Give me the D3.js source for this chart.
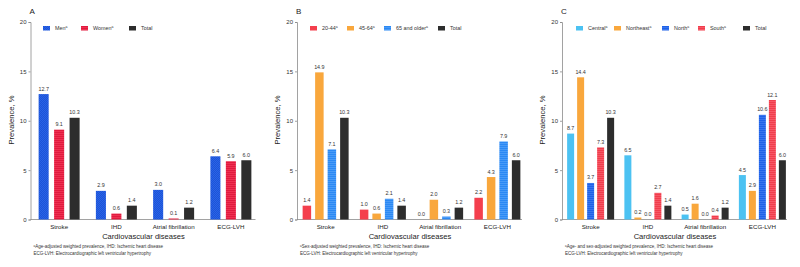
<!DOCTYPE html>
<html><head><meta charset="utf-8">
<script src="https://cdn.jsdelivr.net/npm/d3@7"></script>
<style>body{margin:0;background:#fff}svg{display:block}text{font-family:"Liberation Sans",Arial,sans-serif}</style>
</head><body>
<svg id="c" width="800" height="267"></svg>
<script>
const categories = ["Stroke", "IHD", "Atrial fibrillation", "ECG-LVH"];
const totalValues = [10.3, 1.4, 1.2, 6.0];

const sexSeries = ["Men", "Women", "Total"];
const menValues = [12.7, 2.9, 3.0, 6.4];
const womenValues = [9.1, 0.6, 0.1, 5.9];

const ageSeries = ["20-44", "45-64", "65 and older", "Total"];
const age2044Values = [1.4, 1.0, 0.0, 2.2];
const age4564Values = [14.9, 0.6, 2.0, 4.3];
const age65Values = [7.1, 2.1, 0.3, 7.9];

const regionSeries = ["Central", "Northeast", "North", "South", "Total"];
const centralValues = [8.7, 6.5, 0.5, 4.5];
const northeastValues = [14.4, 0.2, 1.6, 2.9];
const northValues = [3.7, 0.0, 0.0, 10.6];
const southValues = [7.3, 2.7, 0.4, 12.1];

const yTicks = [0, 5, 10, 15, 20];

const svg = d3.select("#c");
const defs = svg.append("defs");

function makePattern(id, base, line, kind) {
  const p = defs.append("pattern").attr("id", id).attr("patternUnits", "userSpaceOnUse")
    .attr("width", 2).attr("height", 2);
  p.append("rect").attr("width", 2).attr("height", 2).attr("fill", base);
  if (kind === "h") p.append("rect").attr("y", 1).attr("width", 2).attr("height", 1).attr("fill", line);
  if (kind === "x") { p.append("rect").attr("width", 1).attr("height", 1).attr("fill", line);
                      p.append("rect").attr("x", 1).attr("y", 1).attr("width", 1).attr("height", 1).attr("fill", line); }
  return "url(#" + id + ")";
}

const panels = [
  { letter: "A", x0: 30.5, series: sexSeries, values: [menValues, womenValues, totalValues],
    fills: [makePattern("pMen", "#1c54d8", "#2a63e6", "x"), makePattern("pWomen", "#e11a3e", "#ee3152", "h"), "#2d2d2d"],
    legendX: [43, 81, 129], groupW: 41, pad: 0.35,
    foot: ["Age-adjusted weighted prevalence, IHD: Ischemic heart disease", "ECG-LVH: Electrocardiographic left ventricular hypertrophy"] },
  { letter: "B", x0: 297, series: ageSeries, values: [age2044Values, age4564Values, age65Values, totalValues],
    fills: ["#f43f4d", "#f9a73c", makePattern("pOld", "#2b89f4", "#4a9bf7", "h"), "#2d2d2d"],
    legendX: [310, 347, 384, 438], groupW: 46, pad: 0.32,
    foot: ["Sex-adjusted weighted prevalence, IHD: Ischemic heart disease", "ECG-LVH: Electrocardiographic left ventricular hypertrophy"] },
  { letter: "C", x0: 562, series: regionSeries, values: [centralValues, northeastValues, northValues, southValues, totalValues],
    fills: ["#4cc2f2", "#f9a73c", makePattern("pNorth", "#1f62e8", "#3a76ee", "h"), makePattern("pSouth", "#f13d4c", "#f65866", "h"), "#2d2d2d"],
    legendX: [576, 614, 662, 698, 743], groupW: 47, pad: 0.3,
    foot: ["Age- and sex-adjusted weighted prevalence, IHD: Ischemic heart disease", "ECG-LVH: Electrocardiographic left ventricular hypertrophy"] }
];

const y = d3.scaleLinear().domain([0, 20]).range([219.5, 22]);

panels.forEach(P => {
  const g = svg.append("g");
  const x = d3.scaleBand().domain(categories).range([P.x0, P.x0 + 229]).padding(0);
  const xi = d3.scaleBand().domain(P.series).range([-P.groupW / 2, P.groupW / 2]).paddingInner(P.pad).paddingOuter(0);

  // panel letter
  g.append("text").attr("x", P.x0 - 1).attr("y", 14).attr("font-size", 8).attr("fill", "#222").text(P.letter);

  // y axis
  const ya = g.append("g").attr("transform", `translate(${P.x0},0)`)
    .call(d3.axisLeft(y).tickValues(yTicks).tickSize(2).tickPadding(2).tickFormat(d3.format("d")));
  ya.select(".domain").attr("stroke", "#8a8a8a").attr("stroke-width", 0.8);
  ya.selectAll(".tick line").attr("stroke", "#8a8a8a").attr("stroke-width", 0.8);
  ya.selectAll(".tick text").attr("font-size", 6).attr("fill", "#333").attr("font-family", "Liberation Sans, Arial, sans-serif");

  // x axis
  const xa = g.append("g").attr("transform", `translate(0,${y(0)})`)
    .call(d3.axisBottom(x).tickSize(0).tickPadding(5));
  xa.select(".domain").attr("stroke", "#8a8a8a").attr("stroke-width", 0.8).attr("d", `M${P.x0},0H${P.x0 + 225}`);
  xa.selectAll(".tick text").attr("font-size", 6.2).attr("fill", "#222").attr("font-family", "Liberation Sans, Arial, sans-serif");

  // axis titles
  g.append("text").attr("transform", `translate(${P.x0 - 17},120) rotate(-90)`).attr("text-anchor", "middle")
    .attr("font-size", 7.6).attr("fill", "#222").text("Prevalence, %");
  g.append("text").attr("x", P.x0 + 113).attr("y", 239).attr("text-anchor", "middle")
    .attr("font-size", 7.6).attr("fill", "#222").text("Cardiovascular diseases");

  // bars
  P.series.forEach((s, si) => {
    const vals = P.values[si];
    const sg = g.append("g");
    sg.selectAll("rect").data(vals).join("rect")
      .attr("x", (d, i) => x(categories[i]) + x.bandwidth() / 2 + xi(s))
      .attr("width", xi.bandwidth())
      .attr("y", d => y(d))
      .attr("height", d => y(0) - y(d))
      .attr("fill", P.fills[si]);
    sg.selectAll("text").data(vals).join("text")
      .attr("x", (d, i) => x(categories[i]) + x.bandwidth() / 2 + xi(s) + xi.bandwidth() / 2)
      .attr("y", d => y(d) - 3.5)
      .attr("text-anchor", "middle").attr("font-size", 5.4).attr("fill", "#333")
      .text(d => d.toFixed(1));
  });

  // legend
  P.series.forEach((s, si) => {
    const lx = P.legendX[si];
    g.append("rect").attr("x", lx).attr("y", 26).attr("width", 7).attr("height", 4.5).attr("fill", P.fills[si]);
    const t = g.append("text").attr("x", lx + 12).attr("y", 30.3).attr("font-size", 5.4).attr("fill", "#333");
    t.append("tspan").text(s);
    if (s !== "Total") t.append("tspan").attr("font-size", 3.4).attr("dy", -2).text("a");
  });

  // footnotes
  const f1 = g.append("text").attr("x", P.x0 + 3).attr("y", 248).attr("font-size", 4.5).attr("fill", "#333");
  f1.append("tspan").attr("font-size", 3).attr("dy", -1.5).text("a");
  f1.append("tspan").attr("dy", 1.5).text(P.foot[0]);
  g.append("text").attr("x", P.x0 + 3).attr("y", 255).attr("font-size", 4.5).attr("fill", "#333").text(P.foot[1]);
});
</script>
</body></html>
